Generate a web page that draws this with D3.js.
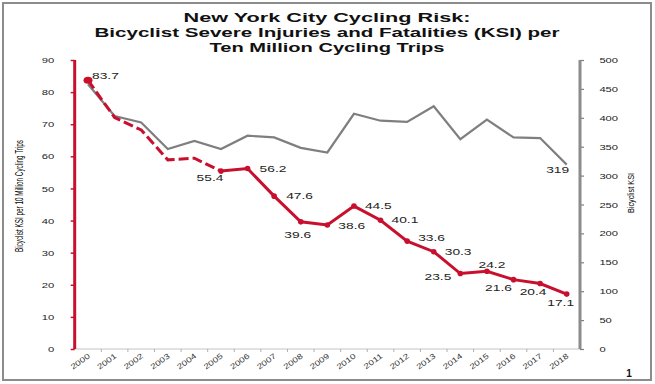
<!DOCTYPE html>
<html>
<head>
<meta charset="utf-8">
<script src="https://cdn.jsdelivr.net/npm/d3@7"></script>
<style>
  body { margin: 0; background: #fff; }
  svg { display: block; font-family: "Liberation Sans", Arial, sans-serif; }
</style>
</head>
<body>
<svg id="chart" width="655" height="384"></svg>
<script>
var years = ["2000","2001","2002","2003","2004","2005","2006","2007","2008","2009",
             "2010","2011","2012","2013","2014","2015","2016","2017","2018"];
var ksiRate = [83.7, 72.1, 68.2, 58.9, 59.4, 55.4, 56.2, 47.6, 39.6, 38.6,
               44.5, 40.1, 33.6, 30.3, 23.5, 24.2, 21.6, 20.4, 17.1];
var ksiCount = [458, 403, 392, 346, 360, 346, 369, 366, 348, 340,
                407, 395, 393, 420, 363, 397, 366, 365, 319];
var leftTicks = [0, 10, 20, 30, 40, 50, 60, 70, 80, 90];
var rightTicks = [0, 50, 100, 150, 200, 250, 300, 350, 400, 450, 500];
var titleLines = ["New York City Cycling Risk:",
                  "Bicyclist Severe Injuries and Fatalities (KSI) per",
                  "Ten Million Cycling Trips"];

var red = "#c8102e", grey = "#7f7f7f";
var svg = d3.select("#chart");
var plotL = 74.7, plotR = 580, plotT = 60, plotB = 349;

var x = d3.scaleBand().domain(years).range([plotL, plotR]);
var yL = d3.scaleLinear().domain([0, 90]).range([plotB, plotT]);
var yR = d3.scaleLinear().domain([0, 500]).range([plotB, plotT]);
var cx = function(d) { return x(d) + x.bandwidth() / 2; };

// frame
svg.append("rect").attr("x", 3).attr("y", 3).attr("width", 648).attr("height", 377)
  .attr("fill", "none").attr("stroke", "#8c8c8c").attr("stroke-width", 2);

// title
var tl = [{w: 287, y: 22}, {w: 465, y: 37}, {w: 235, y: 52}];
svg.selectAll(".title").data(titleLines).enter().append("text")
  .attr("x", 327).attr("y", function(d, i) { return tl[i].y; })
  .attr("text-anchor", "middle")
  .attr("font-size", 12).attr("font-weight", "bold").attr("fill", "#111")
  .attr("textLength", function(d, i) { return tl[i].w; })
  .attr("lengthAdjust", "spacingAndGlyphs")
  .text(function(d) { return d; });

// x axis
svg.append("line").attr("x1", plotL).attr("x2", plotR).attr("y1", plotB).attr("y2", plotB)
  .attr("stroke", "#c4c4c4").attr("stroke-width", 1);
svg.selectAll(".xtick").data(years.slice(1)).enter().append("line")
  .attr("x1", function(d) { return x(d); }).attr("x2", function(d) { return x(d); })
  .attr("y1", plotB).attr("y2", plotB + 3)
  .attr("stroke", "#b0b0b0");
svg.selectAll(".xlab").data(years).enter().append("text")
  .attr("transform", function(d) { return "translate(" + (cx(d) + 1) + "," + (plotB + 6) + ") rotate(-36) scale(1.3,1)"; })
  .attr("text-anchor", "end").attr("dominant-baseline", "central")
  .attr("font-size", 7.5).attr("fill", "#333")
  .text(function(d) { return d; });

// left axis
var gl = svg.append("g").attr("transform", "translate(" + plotL + ",0)")
  .call(d3.axisLeft(yL).tickValues(leftTicks).tickSize(4).tickPadding(5));
gl.select(".domain").remove();
gl.selectAll(".tick line").attr("stroke", red).attr("stroke-width", 1.5);
gl.selectAll(".tick text").attr("font-size", 8).attr("fill", "#222")
  .attr("font-family", "Liberation Sans, Arial, sans-serif")
  .attr("transform", "translate(-8,0) scale(1.4,1)");
svg.append("line").attr("x1", plotL).attr("x2", plotL).attr("y1", plotB).attr("y2", plotT)
  .attr("stroke", red).attr("stroke-width", 3);

// right axis
var gr = svg.append("g").attr("transform", "translate(" + plotR + ",0)")
  .call(d3.axisRight(yR).tickValues(rightTicks).tickSize(4).tickPadding(7));
gr.select(".domain").remove();
gr.selectAll(".tick line").attr("stroke", grey).attr("stroke-width", 1.2);
gr.selectAll(".tick text").attr("font-size", 8).attr("fill", "#222")
  .attr("font-family", "Liberation Sans, Arial, sans-serif")
  .attr("transform", "translate(4,0) scale(1.4,1)");
svg.append("line").attr("x1", plotR).attr("x2", plotR).attr("y1", plotB).attr("y2", plotT)
  .attr("stroke", "#8c8c8c").attr("stroke-width", 3);

// axis titles
svg.append("text").attr("transform", "translate(23,196) rotate(-90)")
  .attr("text-anchor", "middle").attr("font-size", 10)
  .attr("font-family", "Liberation Sans Narrow, Arial Narrow, sans-serif")
  .attr("textLength", 112).attr("lengthAdjust", "spacingAndGlyphs").attr("fill", "#000")
  .text("Bicyclist KSI per 10 Million Cycling Trips");
svg.append("text").attr("transform", "translate(634,193) rotate(-90)")
  .attr("text-anchor", "middle").attr("font-size", 9.5)
  .attr("font-family", "Liberation Sans Narrow, Arial Narrow, sans-serif")
  .attr("textLength", 40).attr("lengthAdjust", "spacingAndGlyphs").attr("fill", "#000")
  .text("Bicyclist KSI");

// grey KSI count line
var greyPts = years.map(function(d, i) { return [cx(d), yR(ksiCount[i])]; });
svg.append("path").attr("d", d3.line()(greyPts))
  .attr("fill", "none").attr("stroke", grey).attr("stroke-width", 2.2)
  .attr("stroke-linejoin", "miter");

// red rate line: dashed 2000-2005, solid after
var redPts = years.map(function(d, i) { return [cx(d), yL(ksiRate[i])]; });
svg.append("path").attr("d", d3.line()(redPts.slice(0, 6)))
  .attr("fill", "none").attr("stroke", red).attr("stroke-width", 3)
  .attr("stroke-dasharray", "10,4");
svg.append("path").attr("d", d3.line()(redPts.slice(5)))
  .attr("fill", "none").attr("stroke", red).attr("stroke-width", 3);
svg.append("ellipse").attr("cx", redPts[0][0]).attr("cy", redPts[0][1])
  .attr("rx", 4.5).attr("ry", 3.5).attr("fill", red);
svg.selectAll(".mk").data(redPts.slice(5)).enter().append("circle")
  .attr("cx", function(d) { return d[0]; }).attr("cy", function(d) { return d[1]; })
  .attr("r", 2.8).attr("fill", red);

// data labels
var place = {
  "2000": ["start", 4, -4], "2005": ["middle", -11, 7], "2006": ["start", 12, 0],
  "2007": ["start", 12, 0], "2008": ["middle", -3, 13], "2009": ["start", 11, 1],
  "2010": ["start", 11, 0], "2011": ["start", 11, 0], "2012": ["start", 11, -3],
  "2013": ["start", 11, 0], "2014": ["end", -9, 3], "2015": ["middle", 5, -7],
  "2016": ["middle", -15, 8], "2017": ["middle", -7, 8], "2018": ["middle", -6, 9]
};
var labelled = years.filter(function(d) { return place[d]; });
svg.selectAll(".dl").data(labelled).enter().append("text")
  .attr("transform", function(d) {
    var i = years.indexOf(d), p = place[d];
    return "translate(" + (cx(d) + p[1]) + "," + (yL(ksiRate[i]) + p[2]) + ") scale(1.45,1)";
  })
  .attr("text-anchor", function(d) { return place[d][0]; })
  .attr("dominant-baseline", "central")
  .attr("font-size", 9.5).attr("fill", "#222")
  .text(function(d) { return ksiRate[years.indexOf(d)].toFixed(1); });
var last = years.length - 1;
svg.append("text")
  .attr("transform", "translate(" + (cx(years[last]) - 9) + "," + (yR(ksiCount[last]) + 5) + ") scale(1.45,1)")
  .attr("text-anchor", "middle").attr("dominant-baseline", "central")
  .attr("font-size", 9.5).attr("fill", "#222")
  .text(ksiCount[last]);

// page number
svg.append("text").attr("x", 629).attr("y", 377).attr("text-anchor", "middle")
  .attr("font-size", 10).attr("font-weight", "bold").attr("fill", "#111").text("1");
</script>
</body>
</html>
